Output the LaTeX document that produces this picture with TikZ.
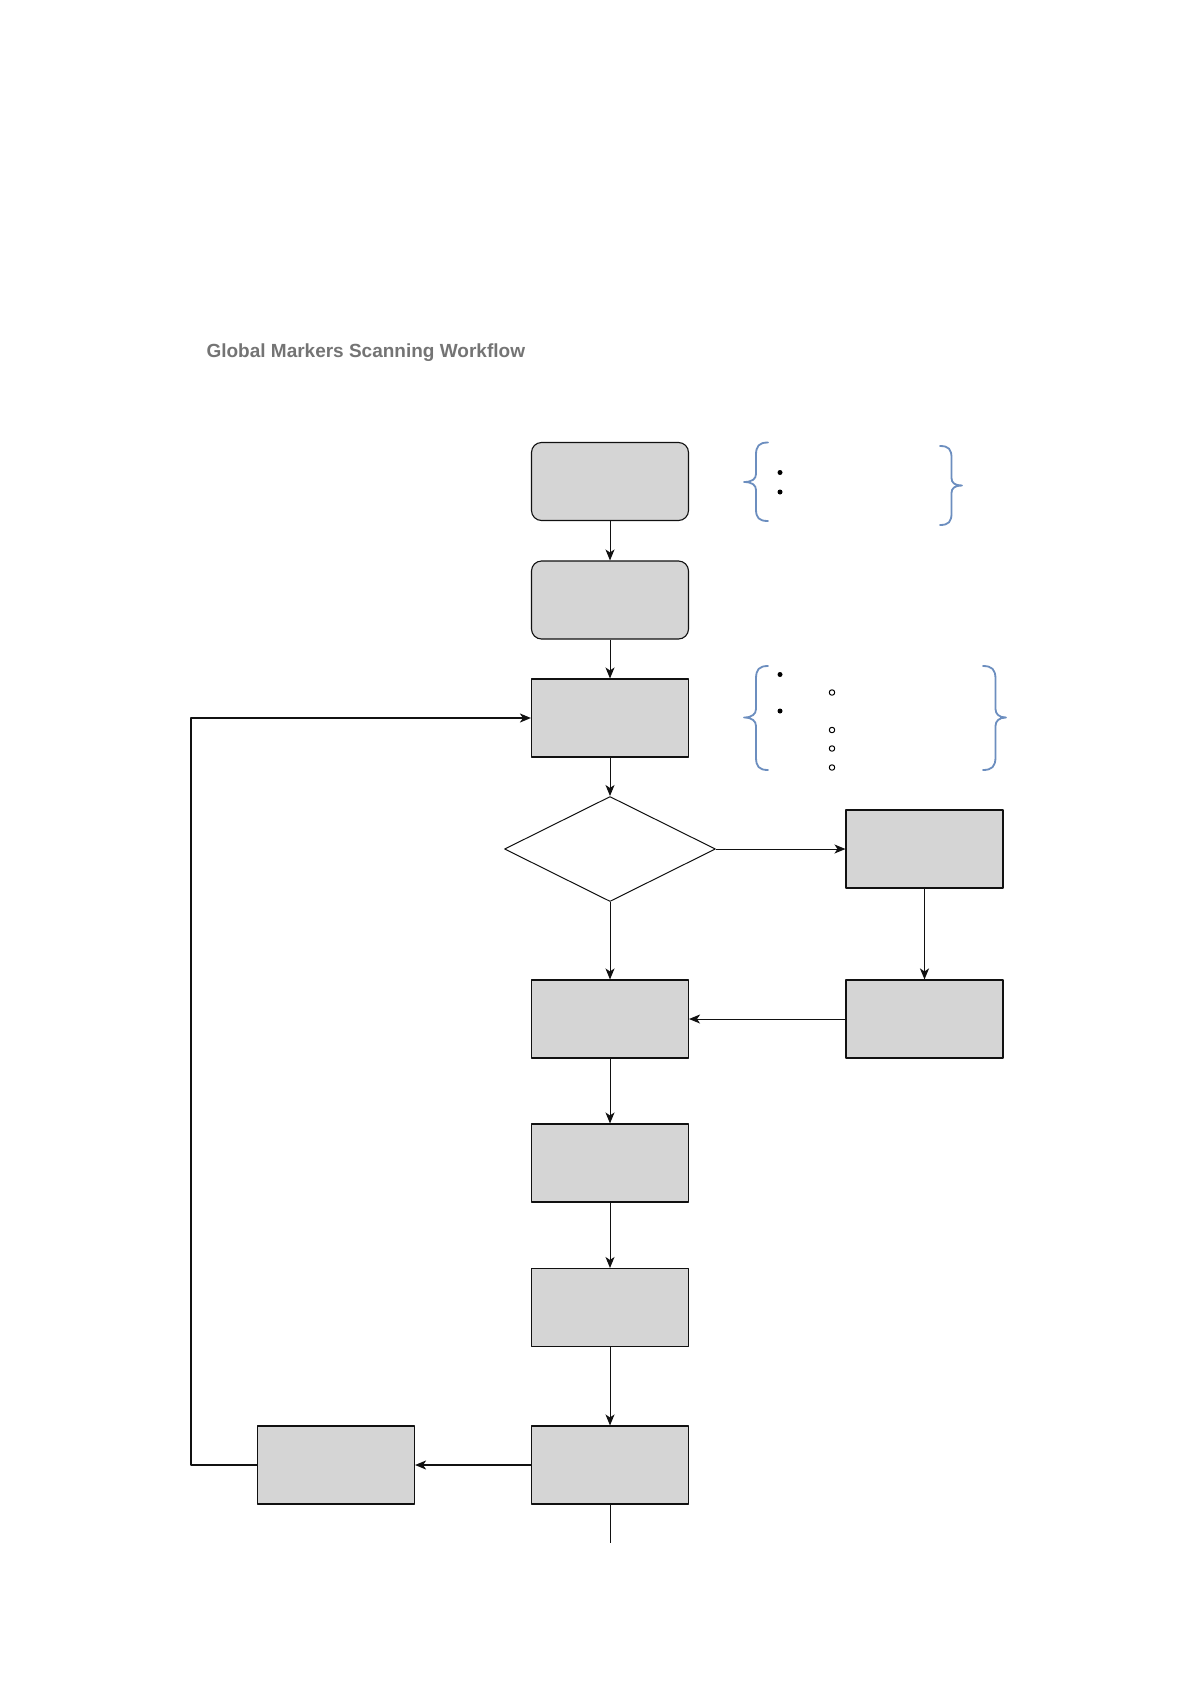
\documentclass[tikz,border=0pt]{standalone}
\usepackage{fontspec}
\setmainfont{Liberation Sans}
\usepackage{tikz}
\usetikzlibrary{arrows.meta,shapes.geometric}
\definecolor{gmkgray}{HTML}{D5D5D5}
\definecolor{gmkink}{HTML}{111111}
\definecolor{gmkbrace}{HTML}{6C8EBF}
\definecolor{gmktitle}{HTML}{747474}

\begin{document}
\begin{tikzpicture}[x=1pt,y=-1pt,>={Stealth[length=11pt,width=9pt,inset=3pt]},line join=round,
  stepbox/.style={draw=gmkink,fill=gmkgray,line width=1.1pt,
    minimum width=157pt,minimum height=78pt,inner sep=0pt},
  roundbox/.style={stepbox,rounded corners=10pt},
  check/.style={draw=gmkink,fill=white,diamond,aspect=2,line width=1pt,
    minimum width=211pt,minimum height=105pt,inner sep=0pt},
  flow/.style={->,gmkink,line width=1pt},
  bold flow/.style={flow,line width=1.6pt},
  curl/.style={gmkbrace,line width=1.8pt,line cap=round},
  full dot/.style={circle,fill=black,inner sep=0pt,minimum size=5pt},
  open dot/.style={circle,draw=black,line width=1pt,fill=white,inner sep=0pt,minimum size=5.5pt}]
\path[use as bounding box] (0,0) rectangle (1190,1684);
\fill[white] (0,0) rectangle (1190,1684);

\node[anchor=west,text=gmktitle,font=\fontsize{19}{22}\selectfont\bfseries]
  (title) at (203,353) {Global Markers Scanning Workflow};

% main column
\node[roundbox] (start) at (610,481.5) {};
\node[roundbox] (prep) at (610,600) {};
\node[stepbox] (scan) at (610,718) {};
\node[check] (ok) at (610,849) {};
\node[stepbox] (fix) at (924.5,849) {};
\node[stepbox] (rescan) at (924.5,1019) {};
\node[stepbox] (merge) at (610,1019) {};
\node[stepbox] (align) at (610,1163) {};
\node[stepbox] (verify) at (610,1307.5) {};
\node[stepbox] (export) at (610,1465) {};
\node[stepbox] (next) at (336,1465) {};
\coordinate (loopbot) at (191,1465);
\coordinate (looptop) at (191,718);
\coordinate (tail) at (610,1543);

\draw[flow] (start) -- (prep);
\draw[flow] (prep) -- (scan);
\draw[flow] (scan) -- (ok);
\draw[flow] (ok) -- (fix);
\draw[flow] (ok) -- (merge);
\draw[bold flow] (fix) -- (rescan);
\draw[flow] (rescan) -- (merge);
\draw[flow] (merge) -- (align);
\draw[flow] (align) -- (verify);
\draw[flow] (verify) -- (export);
\draw[bold flow] (export) -- (next);
\draw[bold flow] (next.west) -- (loopbot) -- (looptop) -- (scan.west);
\draw[gmkink,line width=1pt] (export) -- (tail);

% braces, top group
\draw[curl] (768,442.5) .. controls (759,442.5) and (756,446) .. (756,455)
  -- (756,474) .. controls (756,479) and (752,482) .. (744,482)
  .. controls (752,482) and (756,485) .. (756,490) -- (756,509)
  .. controls (756,518) and (759,521) .. (768,521);
\draw[curl] (940,446) .. controls (949,446) and (951.5,449.5) .. (951.5,458)
  -- (951.5,478) .. controls (951.5,483) and (955,485.5) .. (962,485.5)
  .. controls (955,485.5) and (951.5,488) .. (951.5,493) -- (951.5,513)
  .. controls (951.5,521.5) and (949,525) .. (940,525);
\node[full dot] (ta) at (780,472.5) {};
\node[full dot] (tb) at (780,492) {};

% braces, scan group
\draw[curl] (768,666) .. controls (759,666) and (756,669.5) .. (756,679)
  -- (756,709) .. controls (756,714) and (752,717.5) .. (744,717.5)
  .. controls (752,717.5) and (756,721) .. (756,726) -- (756,757)
  .. controls (756,766.5) and (759,770) .. (768,770);
\draw[curl] (983,666) .. controls (992,666) and (995.5,669.5) .. (995.5,679)
  -- (995.5,709) .. controls (995.5,714) and (999,717.5) .. (1006,717.5)
  .. controls (999,717.5) and (995.5,721) .. (995.5,726) -- (995.5,757)
  .. controls (995.5,766.5) and (992,770) .. (983,770);
\node[full dot] (sa) at (780,674.5) {};
\node[full dot] (sb) at (780,711) {};
\node[open dot] (sa1) at (832,692.5) {};
\node[open dot] (sb1) at (832,730) {};
\node[open dot] (sb2) at (832,748.5) {};
\node[open dot] (sb3) at (832,767.5) {};
\end{tikzpicture}
\end{document}
